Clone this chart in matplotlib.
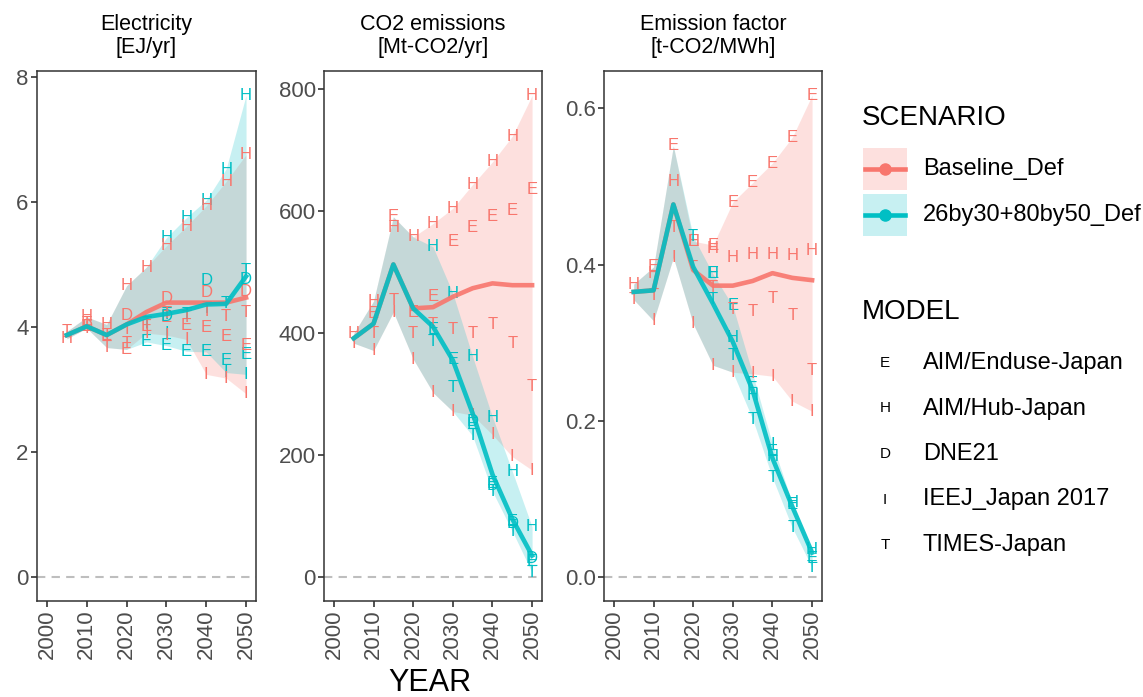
import numpy as np
import matplotlib
matplotlib.use('Agg')
import matplotlib.pyplot as plt
from matplotlib.patches import Rectangle

nan = np.nan

years = [2005, 2010, 2015, 2020, 2025, 2030, 2035, 2040, 2045, 2050]
models = ['E', 'H', 'D', 'I', 'T']
model_names = ['AIM/Enduse-Japan', 'AIM/Hub-Japan', 'DNE21', 'IEEJ_Japan 2017', 'TIMES-Japan']
scenarios = ['Baseline_Def', '26by30+80by50_Def']
scen_colors = ['#F8766D', '#00BFC4']

# Electricity [EJ/yr]
elec_base = {
    'E': [nan, 4.00, 3.87, 3.64, 4.00, 4.15, 4.02, 3.99, 3.84, 3.70],
    'H': [3.81, 4.16, 4.04, 4.66, 4.96, 5.30, 5.61, 5.94, 6.33, 6.76],
    'D': [nan, 4.00, nan, 4.19, nan, 4.45, nan, 4.55, nan, 4.57],
    'I': [nan, 3.98, 3.85, 3.96, 3.90, 3.87, 3.80, 3.24, 3.18, 2.93],
    'T': [3.93, 4.05, 3.67, 3.73, 4.04, 4.22, 4.15, 4.24, 4.16, 4.23],
}
elec_pol = {
    'E': [nan, 4.00, 3.87, 3.64, 3.76, 3.70, 3.61, 3.60, 3.47, 3.56],
    'H': [3.81, 4.16, 4.04, 4.66, 4.96, 5.43, 5.75, 6.03, 6.53, 7.71],
    'D': [nan, 4.00, nan, 4.19, nan, 4.17, nan, 4.74, nan, 4.76],
    'I': [nan, 3.98, 3.85, 3.96, 3.90, 3.90, nan, nan, 3.27, 3.24],
    'T': [3.93, 4.05, 3.67, 3.73, 4.05, 4.20, 4.20, 4.30, 4.37, 4.90],
}
elec_base_mean = [3.87, 4.01, 3.87, 4.04, 4.24, 4.39, 4.39, 4.39, 4.39, 4.47]
elec_pol_mean = [3.87, 4.01, 3.87, 4.04, 4.16, 4.21, 4.27, 4.36, 4.37, 4.81]

# CO2 emissions [Mt-CO2/yr]
co2_base = {
    'E': [nan, 431, 590, 433, 459, 550, 573, 591, 601, 635],
    'H': [399, 452, 573, 557, 579, 604, 643, 680, 722, 789],
    'D': [nan] * 10,
    'I': [383, 371, 434, 357, 302, 271, 265, 233, 197, 175],
    'T': [nan, 399, 453, 399, 414, 406, 399, 414, 383, 312],
}
co2_pol = {
    'E': [nan, 431, 590, 433, 405, 357, 250, 153, 91, 25],
    'H': [399, 452, 573, 557, 541, 465, 361, 262, 173, 82],
    'D': [nan, nan, nan, nan, nan, nan, 255, 150, 88, 30],
    'I': [383, 371, 434, 357, 302, 271, nan, nan, nan, nan],
    'T': [nan, 399, 453, 399, 385, 310, 231, 140, 75, 7],
}
co2_base_mean = [391, 415, 512, 440, 442, 459, 473, 481, 478, 478]
co2_pol_mean = [391, 415, 512, 440, 410, 355, 268, 168, 95, 35]

# Emission factor [t-CO2/MWh]
ef_base = {
    'E': [nan, 0.397, 0.552, 0.430, 0.425, 0.480, 0.505, 0.530, 0.563, 0.617],
    'H': [0.375, 0.388, 0.507, 0.429, 0.420, 0.409, 0.413, 0.413, 0.411, 0.418],
    'D': [nan] * 10,
    'I': [nan, 0.328, 0.409, 0.324, 0.271, 0.262, 0.260, 0.257, 0.225, 0.212],
    'T': [0.355, 0.360, 0.448, 0.396, 0.370, 0.342, 0.340, 0.356, 0.335, 0.264],
}
ef_pol = {
    'E': [nan, 0.397, 0.552, 0.430, 0.388, 0.347, 0.248, 0.160, 0.0925, 0.024],
    'H': [0.375, 0.388, 0.507, 0.429, 0.388, 0.306, 0.232, 0.154, 0.095, 0.035],
    'D': [nan] * 10,
    'I': [nan, 0.328, 0.409, 0.324, 0.271, 0.262, 0.260, 0.170, nan, nan],
    'T': [0.355, 0.360, 0.448, 0.436, 0.355, 0.283, 0.202, 0.127, 0.063, 0.012],
}
ef_base_mean = [0.365, 0.367, 0.477, 0.393, 0.373, 0.373, 0.379, 0.389, 0.383, 0.380]
ef_pol_mean = [0.365, 0.367, 0.477, 0.397, 0.350, 0.301, 0.239, 0.152, 0.090, 0.031]

W, H = 1143, 697
plt.rcParams['font.family'] = ['Liberation Sans', 'DejaVu Sans']


def px_rect(left, right, top=71, bottom=601):
    return [left / W, 1 - bottom / H, (right - left) / W, (bottom - top) / H]


def plot_panel(ax, base_pts, pol_pts, base_mean, pol_mean, title, ylim, yticks, fmt):
    # ribbons: min-max over models
    for pts, col in zip([base_pts, pol_pts], scen_colors):
        arr = np.array([pts[m] for m in models], dtype=float)
        lo = np.nanmin(arr, axis=0)
        hi = np.nanmax(arr, axis=0)
        ax.fill_between(years, lo, hi, color=col, alpha=0.22, lw=0, zorder=1)
    ax.axhline(0, color='#BEBEBE', lw=1.5, ls=(0, (4, 3)), zorder=2)

    # model letters; policy letters that sit exactly on a baseline one are hidden
    for m in models:
        for yr, vb, vp in zip(years, base_pts[m], pol_pts[m]):
            if not np.isnan(vp) and vp != vb:
                ax.text(yr, vp, m, color=scen_colors[1], fontsize=12,
                        ha='center', va='center', zorder=3)
            if not np.isnan(vb):
                ax.text(yr, vb, m, color=scen_colors[0], fontsize=12,
                        ha='center', va='center', zorder=3)

    ax.plot(years, base_mean, color=scen_colors[0], lw=3.3, alpha=0.9, zorder=4)
    ax.plot(years, pol_mean, color=scen_colors[1], lw=3.3, alpha=0.9, zorder=5)

    ax.set_xlim(1997.5, 2052.5)
    ax.set_ylim(*ylim)
    ax.set_xticks(range(2000, 2051, 10))
    ax.set_xticklabels([str(x) for x in range(2000, 2051, 10)], rotation=90)
    ax.set_yticks(yticks)
    ax.set_yticklabels([fmt.format(t) for t in yticks])
    ax.tick_params(axis='both', length=4, width=1.2, color='#333333',
                   labelcolor='#4D4D4D', labelsize=16, pad=2)
    for sp in ax.spines.values():
        sp.set_color('#333333')
        sp.set_linewidth(1.1)
    ax.set_title(title, fontsize=15.5, pad=13, linespacing=1.1)


fig = plt.figure(figsize=(W / 100, H / 100), dpi=100)

ax1 = fig.add_axes(px_rect(37, 256))
ax2 = fig.add_axes(px_rect(324, 542))
ax3 = fig.add_axes(px_rect(604, 822))

plot_panel(ax1, elec_base, elec_pol, elec_base_mean, elec_pol_mean,
           'Electricity\n[EJ/yr]', (-0.39, 8.1), [0, 2, 4, 6, 8], '{:g}')
plot_panel(ax2, co2_base, co2_pol, co2_base_mean, co2_pol_mean,
           'CO2 emissions\n[Mt-CO2/yr]', (-39.5, 829), [0, 200, 400, 600, 800], '{:g}')
plot_panel(ax3, ef_base, ef_pol, ef_base_mean, ef_pol_mean,
           'Emission factor\n[t-CO2/MWh]', (-0.031, 0.648), [0.0, 0.2, 0.4, 0.6], '{:.1f}')

fig.text(430 / W, 1 - 683 / H, 'YEAR', ha='center', va='center', fontsize=22)

# legends, laid out in pixel units on an invisible axes
lax = fig.add_axes([840 / W, 0, (W - 840) / W, 1])
lax.set_xlim(840, W)
lax.set_ylim(H, 0)
lax.axis('off')

lax.text(862, 118, 'SCENARIO', fontsize=20, ha='left', va='center')
for i, (name, col) in enumerate(zip(scenarios, scen_colors)):
    yc = 169 + i * 46
    lax.add_patch(Rectangle((863, yc - 21), 44, 42, facecolor=col, alpha=0.22, lw=0))
    lax.plot([865, 905], [yc, yc], color=col, lw=3.3)
    lax.plot([885], [yc], marker='o', color=col, markersize=8)
    lax.text(923, yc, name, fontsize=17, ha='left', va='center')

lax.text(862, 312, 'MODEL', fontsize=20, ha='left', va='center')
for i, (m, name) in enumerate(zip(models, model_names)):
    yc = 363 + i * 45.5
    lax.text(885, yc, m, fontsize=11, ha='center', va='center')
    lax.text(923, yc, name, fontsize=17, ha='left', va='center')

fig.savefig('out.png', dpi=100)
